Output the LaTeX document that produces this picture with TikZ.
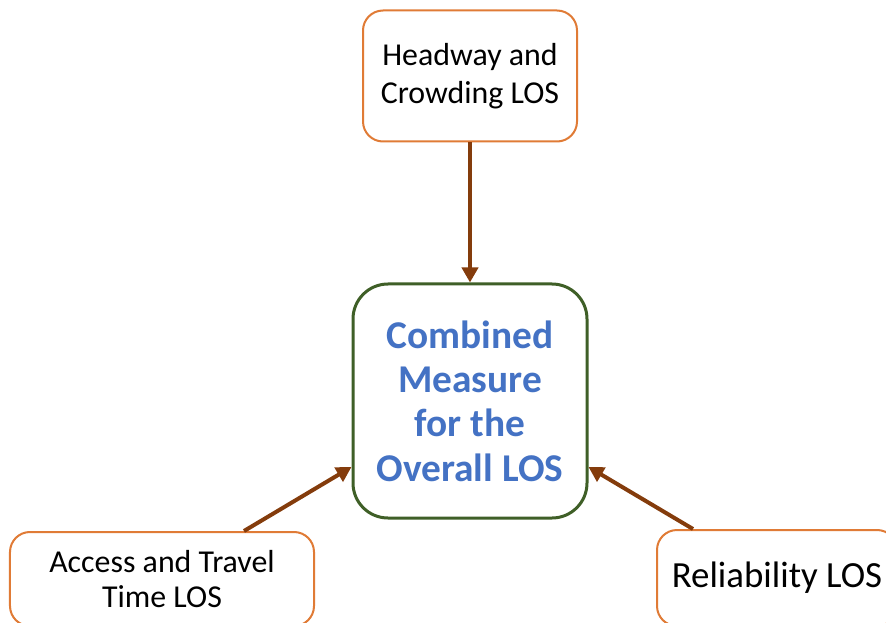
\documentclass[tikz,border=0pt]{standalone}
\usepackage{fontspec}
\setmainfont{Carlito}
\usepackage{xcolor}
\usepackage{tikz}
\usetikzlibrary{arrows.meta,positioning,calc}
\definecolor{LosOrange}{HTML}{E07B36}
\definecolor{LosGreen}{HTML}{3F5F27}
\definecolor{LosBlue}{HTML}{4472C4}
\definecolor{LosBrown}{HTML}{843C0C}

\begin{document}
\begin{tikzpicture}[
  x=1bp,
  y=-1bp,
  inbox/.style={draw=LosOrange, line width=2bp, fill=white, rounded corners=20bp,
    align=center, inner sep=0pt, font=\fontsize{32}{37.5}\selectfont},
  combox/.style={draw=LosGreen, line width=3bp, fill=white, rounded corners=35bp,
    align=center, inner sep=0pt, text=LosBlue,
    font=\fontsize{39.5}{44.5}\selectfont\bfseries},
  feed/.style={draw=LosBrown, line width=4bp, -{Triangle[length=15bp,width=16bp]}}
]
\useasboundingbox (0,0) rectangle (886,623);
\clip (0,0) rectangle (886,623);

\node[inbox, minimum width=214bp, minimum height=131bp] (hdw) at (470,76)
  {Headway and\\Crowding LOS};
\node[combox, minimum width=234bp, minimum height=234bp] (comb) at (470,401)
  {Combined\\Measure\\for the\\Overall LOS};
\node[inbox, minimum width=304bp, minimum height=94bp,
  font=\fontsize{32}{36}\selectfont] (acc) at (162,579)
  {Access and Travel\\Time LOS};
\node[inbox, minimum width=240bp, minimum height=96bp,
  font=\fontsize{37}{42}\selectfont] (rel) at (777,578) {Reliability LOS};

\draw[feed] (hdw) -- (comb);
\draw[feed] ($(acc.north)+(82,0)$) -- ($(comb.west)+(0,66)$);
\draw[feed] ($(rel.north)+(-84,0)$) -- ($(comb.east)+(0,66)$);
\end{tikzpicture}
\end{document}
